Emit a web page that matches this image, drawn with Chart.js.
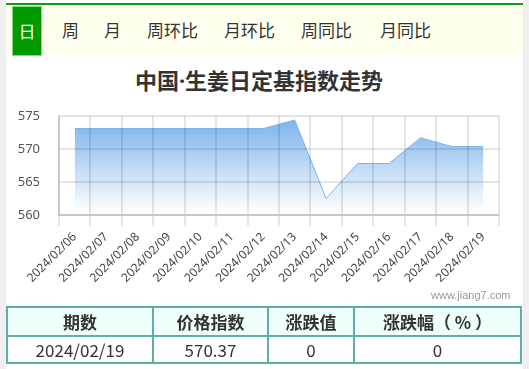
<!DOCTYPE html>
<html>
<head>
<meta charset="utf-8">
<script src="https://cdn.jsdelivr.net/npm/chart.js@4/dist/chart.umd.min.js"></script>
<style>
  html, body { margin:0; padding:0; width:529px; height:369px; overflow:hidden; background:#fff; font-family:"Noto Sans CJK SC","Noto Sans",sans-serif; }
  .strip { position:absolute; top:0; width:6px; height:369px; background:#f0f0f0; }
  #topline { position:absolute; left:6px; top:3px; width:517px; height:2px; background:#119911; }
  #tabbar { position:absolute; left:6px; top:5px; width:517px; height:50px; background:#fffff0; }
  .tab { position:absolute; top:5px; height:50px; line-height:50px; font-size:17px; color:#333; }
  #tabday { position:absolute; left:12px; top:6px; width:28px; height:48px; background:#009900; border:1px solid #88d888; color:#fff; font-size:17px; line-height:48px; text-align:center; }
  #title { position:absolute; left:0; width:518px; top:63px; text-align:center; font-size:22px; font-weight:bold; color:#333; font-family:"Noto Sans","Noto Sans CJK SC",sans-serif; }
  #wrap { position:absolute; left:0; top:0; width:529px; height:300px; }
  #wm { position:absolute; left:431px; top:289px; font-size:11px; color:#999; font-family:"Liberation Sans",Arial,sans-serif; }
  table { position:absolute; left:6px; top:306px; width:516px; border-collapse:collapse; font-size:17px; color:#333; }
  td, th { border:2px solid #5cb0a8; text-align:center; padding:0; }
  th { background:#effffa; height:27px; font-weight:bold; }
  td { height:24px; }
</style>
</head>
<body>
<div class="strip" style="left:0"></div>
<div class="strip" style="left:523px"></div>
<div id="topline"></div>
<div id="tabbar"></div>
<div id="tabday">日</div>
<div class="tab" style="left:62px">周</div>
<div class="tab" style="left:104px">月</div>
<div class="tab" style="left:147px">周环比</div>
<div class="tab" style="left:224px">月环比</div>
<div class="tab" style="left:301px">周同比</div>
<div class="tab" style="left:380px">月同比</div>
<div id="title">中国·生姜日定基指数走势</div>
<div id="wrap"><canvas id="c" width="529" height="300"></canvas></div>
<div id="wm">www.jiang7.com</div>
<table>
  <tr><th style="width:144px">期数</th><th style="width:113px">价格指数</th><th style="width:84px">涨跌值</th><th>涨跌幅（ % ）</th></tr>
  <tr><td>2024/02/19</td><td>570.37</td><td>0</td><td>0</td></tr>
</table>
<script>
const categories = ['2024/02/06','2024/02/07','2024/02/08','2024/02/09','2024/02/10','2024/02/11','2024/02/12','2024/02/13','2024/02/14','2024/02/15','2024/02/16','2024/02/17','2024/02/18','2024/02/19'];
const indexValues = [573.1,573.1,573.1,573.1,573.1,573.1,573.1,574.4,562.5,567.8,567.8,571.7,570.37,570.37];
const yTicks = [560,565,570,575];

new Chart(document.getElementById('c'), {
  type:'line',
  data:{
    labels: categories,
    datasets:[{
      data: indexValues,
      borderColor:'#7cb5ec',
      borderWidth:1,
      pointRadius:0,
      tension:0,
      fill:'start',
      backgroundColor(ctx){
        const a = ctx.chart.chartArea;
        if(!a) return 'rgba(124,181,236,0.6)';
        const g = ctx.chart.ctx.createLinearGradient(0, a.top, 0, a.bottom - 3);
        g.addColorStop(0, 'rgba(118,176,235,1)');
        g.addColorStop(1, 'rgba(255,255,255,1)');
        return g;
      }
    }]
  },
  options:{
    responsive:false,
    animation:false,
    layout:{ padding:{ top:116, right:30, left:0, bottom:0 } },
    plugins:{ legend:{display:false}, tooltip:{enabled:false}, title:{display:false} },
    scales:{
      x:{
        offset:true,
        grid:{ z:1, display:true, offset:true, color:'rgba(0,0,0,0.1)', lineWidth:2, tickLength:11, drawTicks:true, drawOnChartArea:true },
        border:{ z:1, display:true, color:'rgba(110,135,170,0.28)', width:2 },
        ticks:{ minRotation:45, maxRotation:45, autoSkip:false, color:'#444', padding:4,
                font:{ size:12, family:'"Noto Sans","DejaVu Sans",sans-serif' } },
        afterFit(s){ s.height = 85; }
      },
      y:{
        min:560, max:575,
        afterBuildTicks(s){ s.ticks = yTicks.map(v => ({value:v})); },
        grid:{ z:1, display:true, color:'rgba(0,0,0,0.1)', lineWidth:2, drawTicks:false, drawOnChartArea:true },
        border:{ z:1, display:true, color:'rgba(0,0,0,0.13)', width:2 },
        ticks:{ color:'#555', padding:19, font:{ size:13, family:'"Noto Sans","DejaVu Sans",sans-serif' } },
        afterFit(s){ s.width = 59; }
      }
    }
  }
});
</script>
</body>
</html>
